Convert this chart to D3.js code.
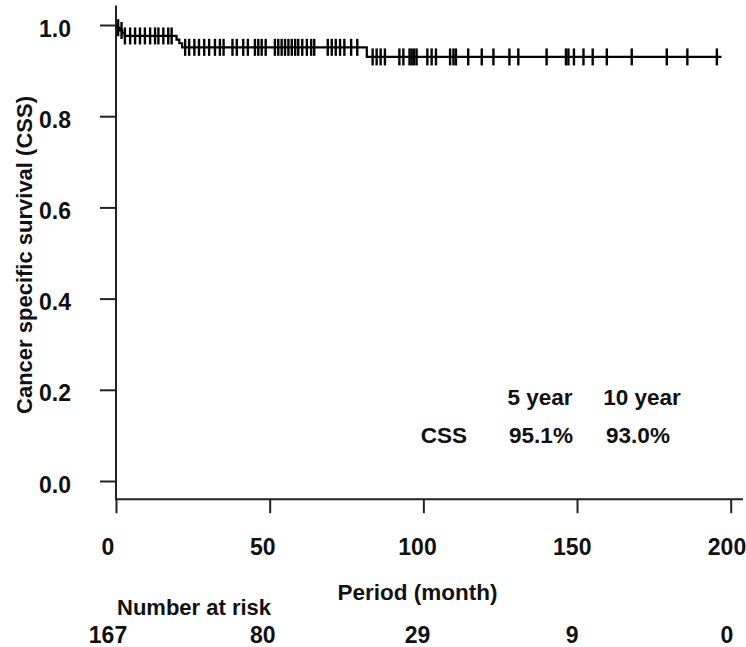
<!DOCTYPE html>
<html>
<head>
<meta charset="utf-8">
<script src="https://cdn.jsdelivr.net/npm/d3@7"></script>
<style>
    body { margin: 0; background: #fff; }
    text { font-family: "Liberation Sans", Arial, sans-serif; font-weight: bold; fill: #111; }
</style>
</head>
<body>
<svg></svg>
<script>
// KM steps (time in months, survival after the drop)
const stepTimes = [0, 0.5, 1.2, 2.0, 2.8, 19.7, 20.6, 21.5, 81.6];
const stepSurv = [1.0, 0.994, 0.988, 0.982, 0.976, 0.968, 0.96, 0.951, 0.93];
const lastTime = 197;

const censorTimes = [
    0.7, 1.8, 2.9, 4.6, 6.2, 7.8, 9.4, 11.1, 12.7, 13.8, 15.4, 17.0, 18.1,
    22.5, 23.8, 25.5, 27.0, 28.7, 30.3, 32.2, 33.8, 35.0, 37.9, 39.3, 41.4,
    42.9, 45.2, 46.3, 47.4, 48.7, 51.7, 52.8, 53.9, 55.0, 56.1, 57.2, 58.3,
    59.3, 60.6, 62.1, 63.5, 64.5, 68.9, 70.2, 71.5, 72.9, 74.3, 76.5, 78.5,
    83.5, 84.8, 86.1, 87.5, 92.2, 93.5, 95.5, 96.2, 97.0, 97.8, 101.3, 102.7,
    104.1, 108.7, 109.8, 110.6, 114.6, 119.0, 122.8, 128.0, 130.9, 140.1,
    146.4, 147.2, 149.0, 152.1, 155.1, 159.7, 167.8, 179.2, 185.9, 195.5
];

const xTicks = [0, 50, 100, 150, 200];
const yTicks = [0, 0.2, 0.4, 0.6, 0.8, 1.0];
const riskTimes = [0, 50, 100, 150, 200];
const riskCounts = [167, 80, 29, 9, 0];

const tableHead = ["5 year", "10 year"];
const tableRow = ["CSS", "95.1%", "93.0%"];

const width = 746,
    height = 647;

const svg = d3.select("svg").attr("width", width).attr("height", height);

const xScale = d3.scaleLinear().domain([0, 200]).range([116, 730.7]);
const yScale = d3.scaleLinear().domain([0, 1]).range([481, 25]);
// labels under the axis sit a little left of their ticks in the original
const labelScale = d3.scaleLinear().domain([0, 200]).range([108, 727]);

const survAt = (t) => stepSurv[d3.bisectRight(stepTimes, t) - 1];

// frame (left + bottom)
svg.append("path")
    .attr("d", `M${xScale(0)},${yScale(1.043)}V${yScale(-0.04)}H${xScale(204)}`)
    .attr("fill", "none")
    .attr("stroke", "#222")
    .attr("stroke-width", 2);

// y axis
const yAxis = d3.axisLeft(yScale)
    .tickValues(yTicks)
    .tickSize(16)
    .tickSizeOuter(0)
    .tickPadding(29)
    .tickFormat(d3.format(".1f"));
const gy = svg.append("g").attr("transform", `translate(${xScale(0)},0)`).call(yAxis);
gy.select(".domain").remove();
gy.selectAll("line").attr("stroke", "#222").attr("stroke-width", 2);
gy.selectAll("text")
    .attr("dy", 11)
    .style("font-size", "23px")
    .style("font-family", null);

// x axis
const xAxis = d3.axisBottom(xScale).tickValues(xTicks).tickSize(14).tickSizeOuter(0).tickFormat("");
const gx = svg.append("g").attr("transform", `translate(0,${yScale(-0.04)})`).call(xAxis);
gx.select(".domain").remove();
gx.selectAll("line").attr("stroke", "#222").attr("stroke-width", 2);

svg.append("g")
    .selectAll("text")
    .data(xTicks)
    .enter()
    .append("text")
    .attr("x", (d) => labelScale(d))
    .attr("y", 555)
    .attr("text-anchor", "middle")
    .style("font-size", "23px")
    .text((d) => d);

// curve
const pts = stepTimes.map((t, i) => [t, stepSurv[i]]);
pts.push([lastTime, stepSurv[stepSurv.length - 1]]);
const line = d3.line()
    .x((d) => xScale(d[0]))
    .y((d) => yScale(d[1]))
    .curve(d3.curveStepAfter);
svg.append("path")
    .datum(pts)
    .attr("d", line)
    .attr("fill", "none")
    .attr("stroke", "#000")
    .attr("stroke-width", 2.2);

// censor marks
svg.append("g")
    .selectAll("line")
    .data(censorTimes)
    .enter()
    .append("line")
    .attr("x1", (d) => xScale(d))
    .attr("x2", (d) => xScale(d))
    .attr("y1", (d) => yScale(survAt(d)) - 8.5)
    .attr("y2", (d) => yScale(survAt(d)) + 8.5)
    .attr("stroke", "#000")
    .attr("stroke-width", 2.4);

// titles
svg.append("text")
    .attr("transform", `translate(32,${(yScale(0) + yScale(1)) / 2 + 2}) rotate(-90)`)
    .attr("text-anchor", "middle")
    .style("font-size", "22px")
    .text("Cancer specific survival (CSS)");

svg.append("text")
    .attr("x", labelScale(100))
    .attr("y", 600)
    .attr("text-anchor", "middle")
    .style("font-size", "22.5px")
    .text("Period (month)");

// survival table
svg.append("g")
    .selectAll("text")
    .data(tableHead)
    .enter()
    .append("text")
    .attr("x", (d, i) => [540, 642][i])
    .attr("y", 405)
    .attr("text-anchor", "middle")
    .style("font-size", "22.5px")
    .text((d) => d);

svg.append("g")
    .selectAll("text")
    .data(tableRow)
    .enter()
    .append("text")
    .attr("x", (d, i) => [444, 541, 638][i])
    .attr("y", 443)
    .attr("text-anchor", "middle")
    .style("font-size", "22.5px")
    .text((d) => d);

// number at risk
svg.append("text")
    .attr("x", 117)
    .attr("y", 615)
    .style("font-size", "22px")
    .text("Number at risk");

svg.append("g")
    .selectAll("text")
    .data(riskTimes)
    .enter()
    .append("text")
    .attr("x", (d) => labelScale(d))
    .attr("y", 643)
    .attr("text-anchor", "middle")
    .style("font-size", "23px")
    .text((d, i) => riskCounts[i]);
</script>
</body>
</html>
